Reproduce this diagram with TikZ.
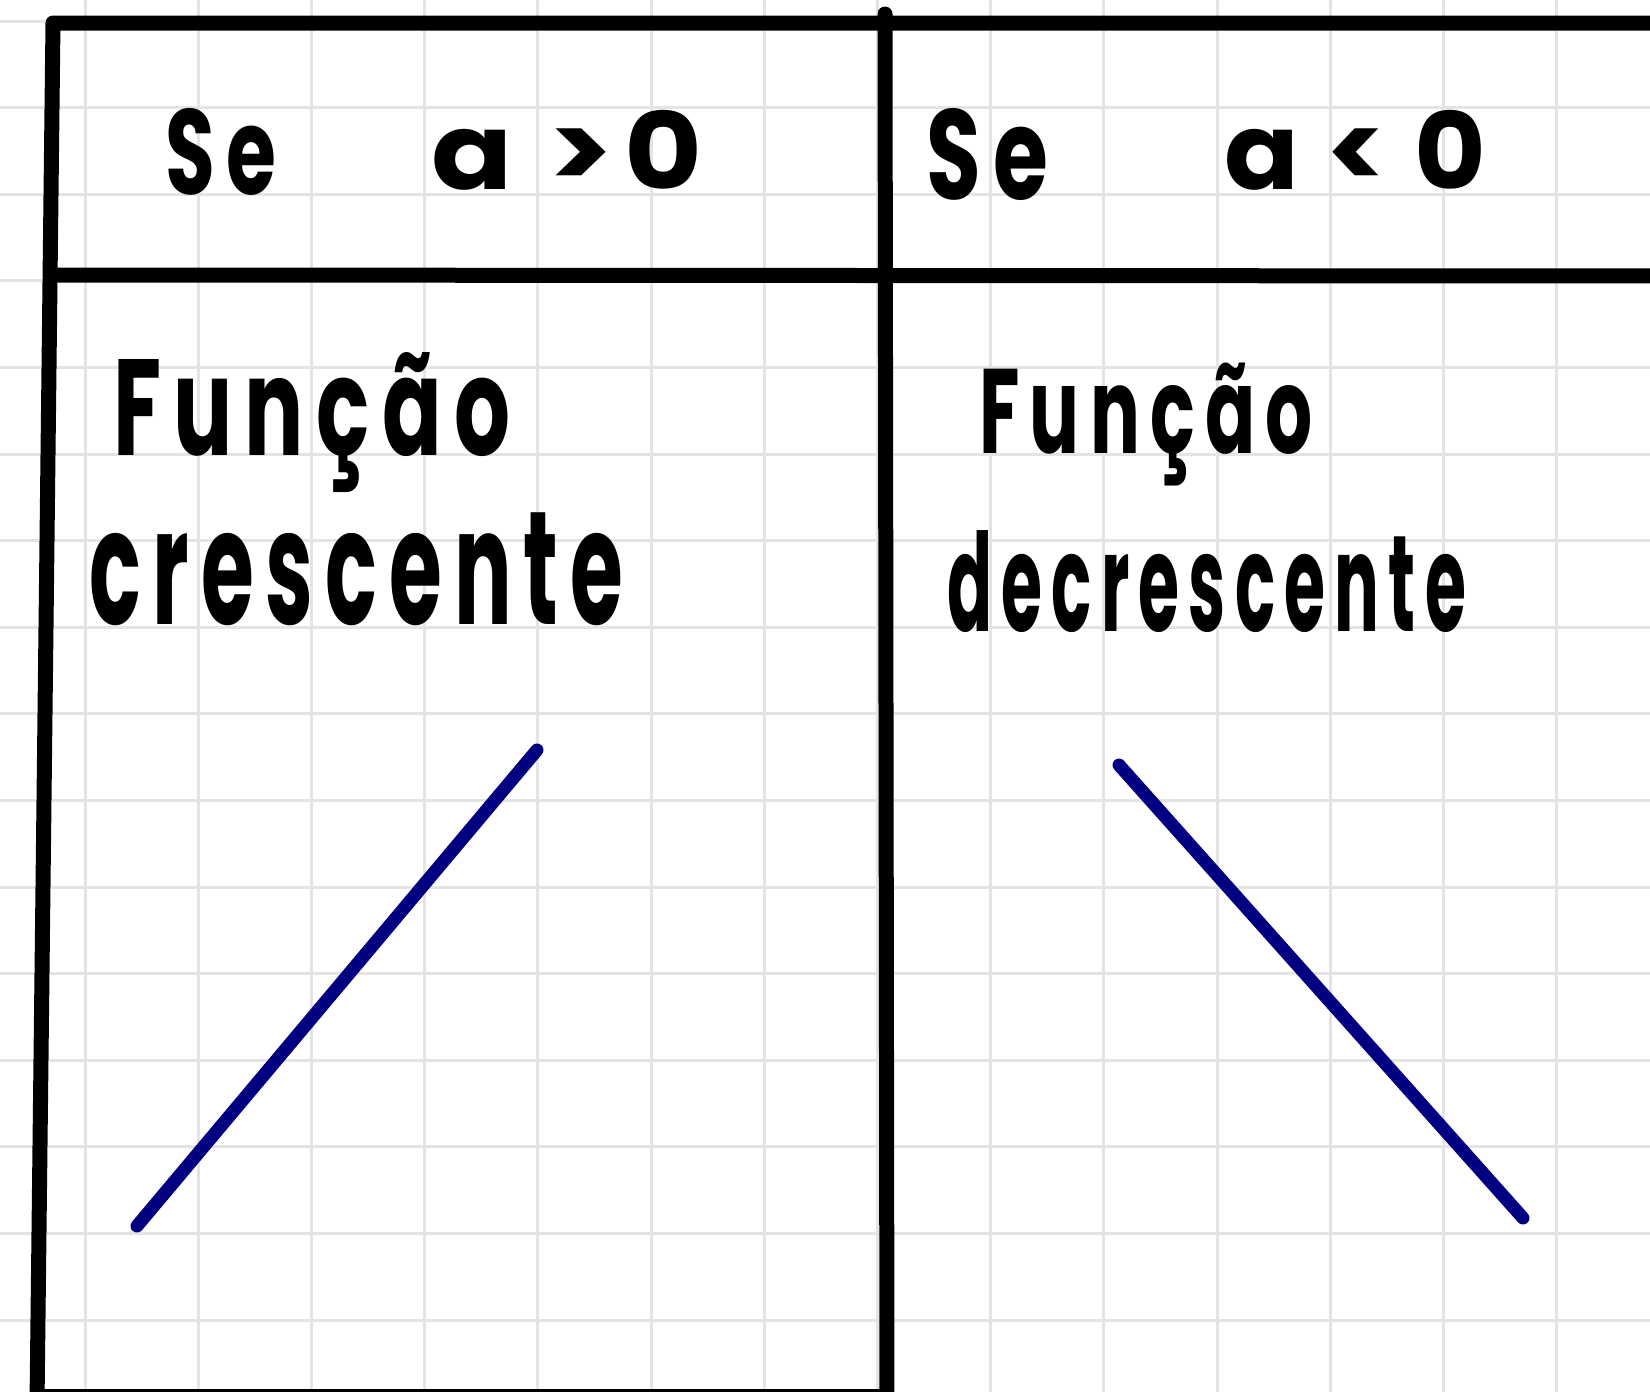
\documentclass[tikz,border=0pt]{standalone}
\usepackage{fontspec}
\setmainfont{Poppins}
\usepackage{graphicx}
\definecolor{penblue}{RGB}{0,0,128}
\definecolor{gridgray}{RGB}{228,228,228}
\newcommand{\fitword}[3]{\resizebox*{#1pt}{#2pt}{\bfseries\addfontfeatures{LetterSpace=14}#3}}
\begin{document}
\begin{tikzpicture}[x=1pt,y=-1pt,
  gridline/.style={draw=gridgray,line width=3pt},
  tableline/.style={draw=black,line width=15pt,line cap=round,line join=round},
  penline/.style={draw=penblue,line width=13pt,line cap=round},
  word/.style={inner sep=0pt,outer sep=0pt,anchor=north west}]
\useasboundingbox (0,0) rectangle (1650,1392);
\clip (0,0) rectangle (1650,1392);
\fill[white] (0,0) rectangle (1650,1392);
% grid paper
\foreach \k in {0,...,13} {
  \draw[gridline] ({85+113.2*\k},0) -- ({85+113.2*\k},1392);
}
\foreach \k in {0,...,15} {
  \draw[gridline] (0,{21+86.6*\k}) -- (1650,{21+86.6*\k});
}
% table
\coordinate (tr) at (1665,23);
\coordinate (tl) at (53,23);
\coordinate (bl) at (37,1405);
\coordinate (hl) at (58,275);
\coordinate (hr) at (1665,276);
\coordinate (mt) at (885,14);
\coordinate (mb) at (887,1405);
\coordinate (bbl) at (37,1396);
\coordinate (bbr) at (887,1396);
\draw[tableline] (tr) -- (tl) -- (bl);
\draw[tableline] (hl) -- (hr);
\draw[tableline] (mt) -- (mb);
\draw[tableline] (bbl) -- (bbr);
% texts
\node[word] (se1) at (165,108) {\fitword{111}{87}{Se}};
\node[word] (cond1) at (431,110) {\fitword{272}{80}{a\hspace{0.3em}>\hspace{0.1em}0}};
\node[word] (se2) at (926,108) {\fitword{122}{92}{Se}};
\node[word] (cond2) at (1224,110) {\fitword{262}{80}{a\hspace{0.25em}<\hspace{0.25em}0}};
\node[word] (f1) at (113,352) {\fitword{397}{140}{Função}};
\node[word] (c1) at (89,513) {\fitword{534}{113}{crescente}};
\node[word] (f2) at (979,363) {\fitword{334}{123}{Função}};
\node[word] (c2) at (947,531) {\fitword{519}{102}{decrescente}};
% graphs
\coordinate (up1) at (137,1226);
\coordinate (up2) at (537,750);
\coordinate (dn1) at (1119,765);
\coordinate (dn2) at (1523,1218);
\draw[penline] (up1) -- (up2);
\draw[penline] (dn1) -- (dn2);
\end{tikzpicture}
\end{document}
